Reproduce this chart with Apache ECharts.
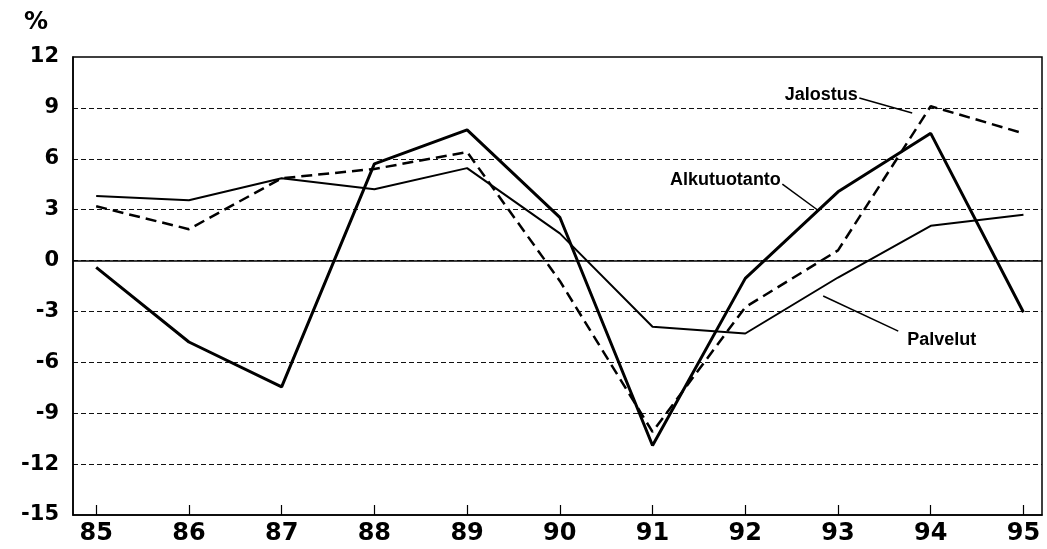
<!DOCTYPE html>
<html>
<head>
<meta charset="utf-8">
<script src="https://cdn.jsdelivr.net/npm/echarts@6/dist/echarts.min.js"></script>
<style>
  html, body { margin: 0; padding: 0; background: #fff; }
  #chart { width: 1047px; height: 549px; }
</style>
</head>
<body>
<div id="chart"></div>
<script>
// vuodet (x-akseli) ja sarjat, %
var years = [85, 86, 87, 88, 89, 90, 91, 92, 93, 94, 95]
var yTicks = [-15, -12, -9, -6, -3, 0, 3, 6, 9, 12]
var alkutuotanto = [-0.4, -4.8, -7.45, 5.7, 7.7, 2.55, -10.9, -1.05, 4.05, 7.5, -3.05]
var jalostus = [3.2, 1.85, 4.85, 5.4, 6.4, -1.2, -10.1, -2.75, 0.6, 9.1, 7.5]
var palvelut = [3.8, 3.55, 4.85, 4.2, 5.45, 1.6, -3.9, -4.3, -1.0, 2.05, 2.7]

// nimilaput ja viivat datakoordinaateissa
var notes = [
  { name: 'Jalostus', text: [93.23, 9.75], pos: 'left', line: [[93.23, 9.58], [93.8, 8.7]] },
  { name: 'Alkutuotanto', text: [92.4, 4.75], pos: 'left', line: [[92.4, 4.51], [92.78, 2.98]] },
  { name: 'Palvelut', text: [93.73, -4.69], pos: 'right', line: [[92.84, -2.09], [93.65, -4.16]] }
]

function pairs (vals) {
  return years.map(function (y, i) { return [y, vals[i]] })
}

function note (n) {
  return {
    markLine: {
      silent: true,
      symbol: 'none',
      label: { show: false },
      lineStyle: { type: 'solid', color: '#000', width: 1.5 },
      data: [[{ coord: n.line[0] }, { coord: n.line[1] }]]
    },
    markPoint: {
      silent: true,
      symbol: 'circle',
      symbolSize: 1,
      itemStyle: { color: 'transparent' },
      label: {
        show: true,
        position: n.pos,
        distance: 1,
        formatter: n.name,
        color: '#000',
        fontFamily: 'Liberation Sans',
        fontWeight: 'bold',
        fontSize: 18
      },
      data: [{ coord: n.text }]
    }
  }
}

var chart = echarts.init(document.getElementById('chart'))

var labelFont = { color: '#000', fontFamily: 'DejaVu Sans', fontWeight: 'bold' }

chart.setOption({
  animation: false,
  backgroundColor: '#fff',
  title: {
    text: '%',
    left: 19,
    top: 6,
    textStyle: { color: '#000', fontFamily: 'DejaVu Sans', fontWeight: 'bold', fontSize: 24 }
  },
  grid: {
    left: 73,
    right: 5,
    top: 57,
    bottom: 34,
    show: true,
    borderColor: '#000',
    borderWidth: 1.5,
    containLabel: false
  },
  xAxis: {
    type: 'value',
    min: 84.75,
    max: 95.2,
    axisLine: { show: true, onZero: false, lineStyle: { color: '#000', width: 1.5 } },
    axisTick: {
      show: true,
      inside: true,
      length: 10,
      customValues: years,
      lineStyle: { color: '#000', width: 1.2 }
    },
    axisLabel: Object.assign({
      customValues: years,
      fontSize: 24,
      margin: 7,
      formatter: function (v) { return String(v) }
    }, labelFont),
    splitLine: { show: false }
  },
  yAxis: {
    type: 'value',
    min: yTicks[0],
    max: yTicks[yTicks.length - 1],
    interval: 3,
    axisLine: { show: true, lineStyle: { color: '#000', width: 1.5 } },
    axisTick: { show: false },
    axisLabel: Object.assign({ fontSize: 21, margin: 14 }, labelFont),
    splitLine: {
      show: true,
      showMinLine: false,
      showMaxLine: false,
      lineStyle: { color: '#111', width: 1.1, type: [5, 3] }
    }
  },
  series: [
    Object.assign({
      name: 'Alkutuotanto',
      type: 'line',
      data: pairs(alkutuotanto),
      symbol: 'none',
      lineStyle: { color: '#000', width: 3 },
      z: 4
    }, note(notes[1])),
    Object.assign({
      name: 'Jalostus',
      type: 'line',
      data: pairs(jalostus),
      symbol: 'none',
      lineStyle: { color: '#000', width: 2.5, type: [11, 6] },
      z: 3
    }, note(notes[0])),
    {
      name: 'Palvelut',
      type: 'line',
      data: pairs(palvelut),
      symbol: 'none',
      lineStyle: { color: '#000', width: 2 },
      z: 3,
      markLine: {
        silent: true,
        symbol: 'none',
        label: { show: false },
        lineStyle: { type: 'solid', color: '#000', width: 1.5 },
        data: [
          { yAxis: 0 },
          [{ coord: notes[2].line[0] }, { coord: notes[2].line[1] }]
        ]
      },
      markPoint: note(notes[2]).markPoint
    }
  ]
})
</script>
</body>
</html>
